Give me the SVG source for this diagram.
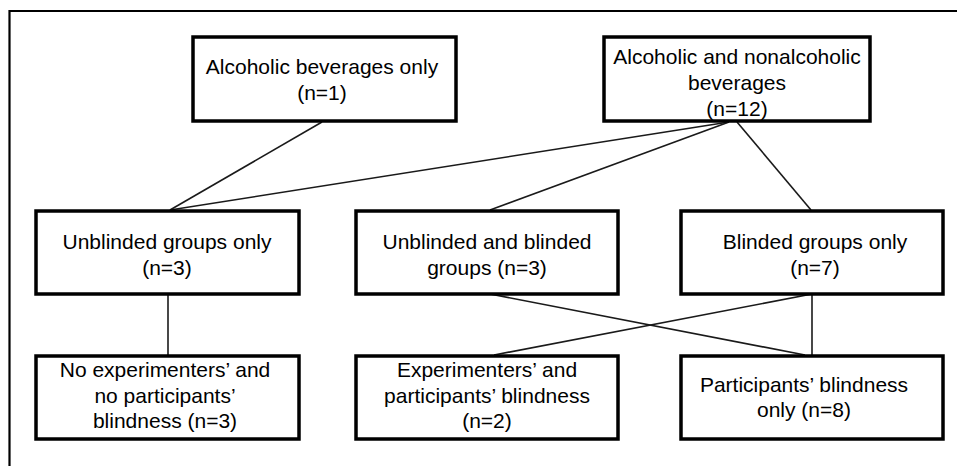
<svg xmlns="http://www.w3.org/2000/svg" width="957" height="466" viewBox="0 0 957 466">
<style>
.box{fill:#fff;stroke:#000;stroke-width:3.5}
.frame{fill:none;stroke:#000;stroke-width:2.2}
.conn line{stroke:#1a1a1a;stroke-width:1.6}
text{font-family:"Liberation Sans",Arial,sans-serif;font-size:21px;fill:#000;text-anchor:middle}
</style>
<rect x="0" y="0" width="957" height="466" fill="#fff"/>
<path class="frame" d="M9.5 466 V11 H957"/>
<g id="connectors" class="conn">
<line x1="322" y1="122" x2="170" y2="210"/>
<line x1="729" y1="122" x2="170" y2="210"/>
<line x1="729" y1="122" x2="490" y2="210"/>
<line x1="737" y1="122" x2="811" y2="210"/>
<line x1="168" y1="294" x2="168" y2="355"/>
<line x1="490" y1="294" x2="805" y2="355"/>
<line x1="812" y1="294" x2="494" y2="355"/>
<line x1="812" y1="294" x2="812" y2="355"/>
</g>
<g id="n1"><rect class="box" x="193" y="37" width="263" height="84"/>
<text x="322" y="74">Alcoholic beverages only</text><text x="322" y="100">(n=1)</text></g>
<g id="n2"><rect class="box" x="604" y="37" width="266" height="84"/>
<text x="737" y="64">Alcoholic and nonalcoholic</text><text x="737" y="90">beverages</text><text x="737" y="116">(n=12)</text></g>
<g id="n3"><rect class="box" x="36" y="211" width="263" height="83"/>
<text x="167" y="249">Unblinded groups only</text><text x="167" y="275">(n=3)</text></g>
<g id="n4"><rect class="box" x="356" y="211" width="262" height="83"/>
<text x="487" y="249">Unblinded and blinded</text><text x="487" y="275">groups (n=3)</text></g>
<g id="n5"><rect class="box" x="681" y="211" width="262" height="83"/>
<text x="815" y="249">Blinded groups only</text><text x="815" y="275">(n=7)</text></g>
<g id="n6"><rect class="box" x="36" y="356" width="263" height="83"/>
<text x="165" y="377">No experimenters’ and</text><text x="165" y="403">no participants’</text><text x="165" y="428">blindness (n=3)</text></g>
<g id="n7"><rect class="box" x="356" y="356" width="262" height="83"/>
<text x="487" y="377">Experimenters’ and</text><text x="487" y="403">participants’ blindness</text><text x="487" y="428">(n=2)</text></g>
<g id="n8"><rect class="box" x="681" y="356" width="262" height="83"/>
<text x="804" y="392">Participants’ blindness</text><text x="804" y="417">only (n=8)</text></g>
</svg>
